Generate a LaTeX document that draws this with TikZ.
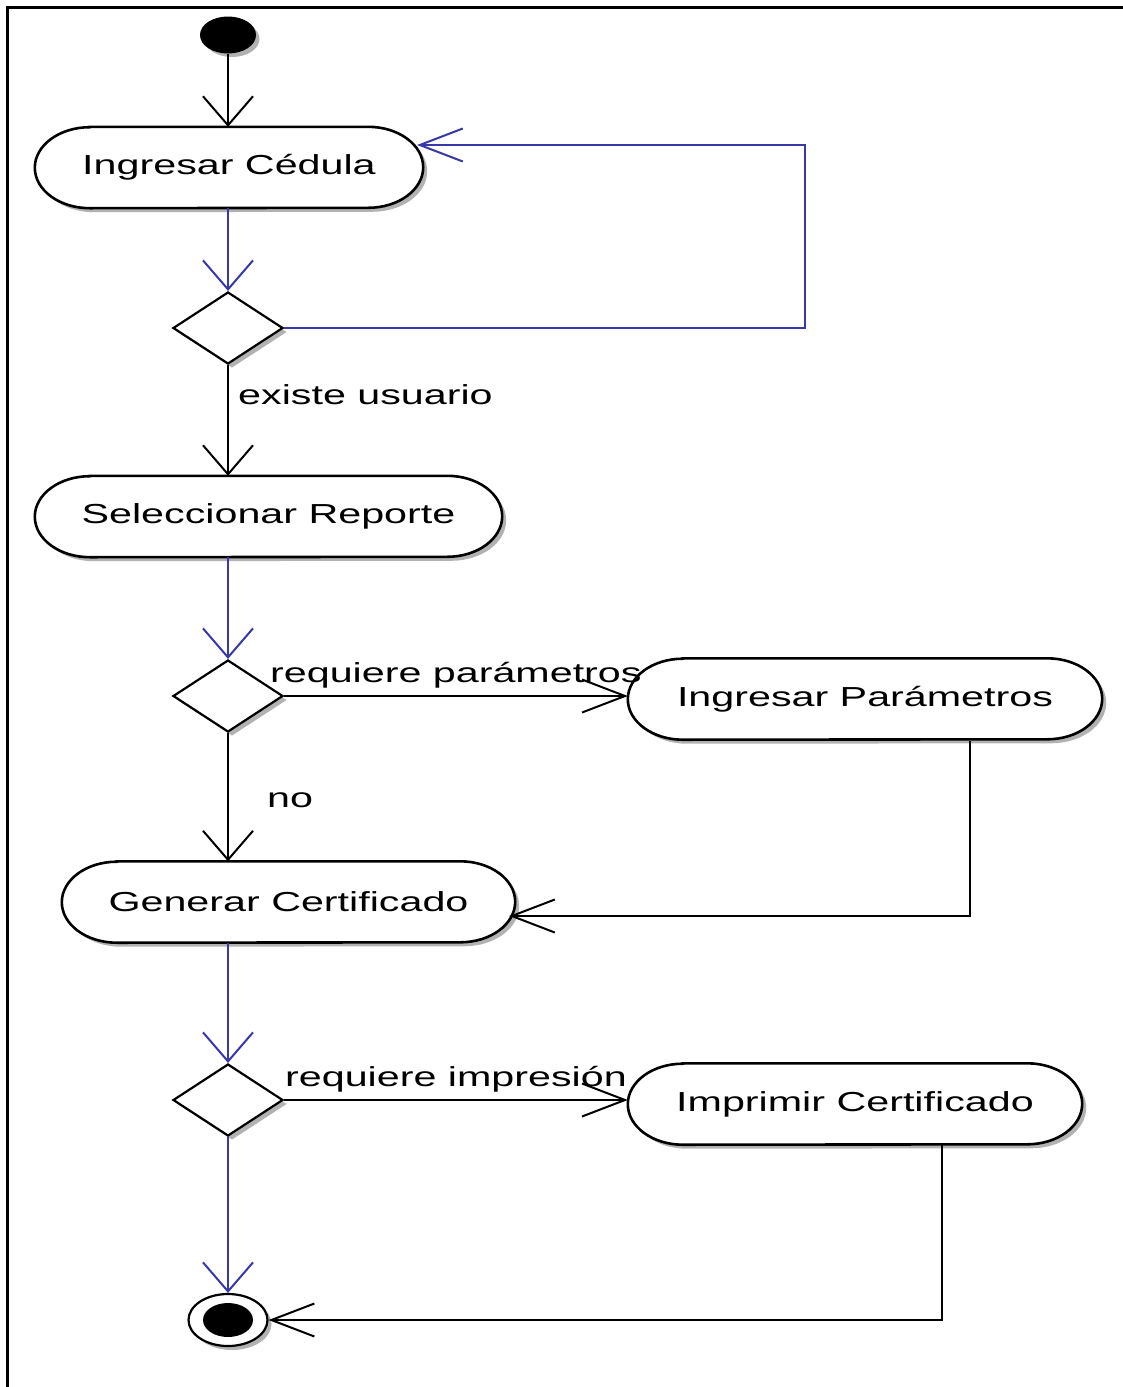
\documentclass[tikz,border=0pt]{standalone}
\usepackage{fontspec}
\newfontfamily\dfont[FakeStretch=1.5]{Liberation Sans}
\usetikzlibrary{arrows.meta,shapes.geometric,shadows}
\definecolor{umlblue}{RGB}{56,56,168}
\pgfdeclarelayer{bg}
\pgfsetlayers{bg,main}
\tikzset{
  shd/.style={drop shadow={shadow xshift=4pt, shadow yshift=-4pt, opacity=0.3, fill=black}},
  act/.style={minimum height=81pt, inner sep=0pt, font=\dfont\fontsize{27.5}{32}\selectfont},
  actline/.style={draw=black, line width=2.6pt, fill=white, shd},
  dec/.style={draw=black, line width=2.2pt, fill=white, diamond, minimum width=110pt, minimum height=72pt, inner sep=0pt, shd},
  lbl/.style={anchor=west, inner sep=0pt, font=\dfont\fontsize{27.5}{32}\selectfont},
  blk/.style={draw=black, line width=2pt},
  blu/.style={draw=umlblue, line width=2pt},
  vtip/.style={-{Straight Barb[length=29pt, width=50pt]}},
  htip/.style={-{Straight Barb[length=43pt, width=33pt]}},
}
\newcommand\stadiumof[1]{%
  \begin{pgfonlayer}{bg}
  \path[actline] ([xshift=55pt]#1.north west) -- ([xshift=-55pt]#1.north east)
    arc[start angle=90, end angle=-90, x radius=55pt, y radius=40.5pt]
    -- ([xshift=55pt]#1.south west)
    arc[start angle=270, end angle=90, x radius=55pt, y radius=40.5pt] -- cycle;
  \end{pgfonlayer}}
\begin{document}
\begin{tikzpicture}[x=1pt, y=-1pt]
\begin{pgfonlayer}{bg}
\useasboundingbox (0,0) rectangle (1123,1387);
\fill[white] (0,0) rectangle (1123,1387);
\draw[line width=3pt] (7,1387) -- (7,7) -- (1123,7);
\end{pgfonlayer}

% nodes
\node[ellipse, fill=black, draw=black, line width=1pt, minimum width=55pt, minimum height=36pt, inner sep=0pt, shd] (start) at (228,35) {};
\node[act, minimum width=388pt] (ced) at (229,167.5) {Ingresar Cédula};
\stadiumof{ced}
\node[dec] (d1) at (228,328) {};
\node[act, minimum width=467pt] (sel) at (268.5,516.5) {Seleccionar Reporte};
\stadiumof{sel}
\node[dec] (d2) at (228,696) {};
\node[act, minimum width=474pt] (par) at (865,699) {Ingresar Parámetros};
\stadiumof{par}
\node[act, minimum width=453pt] (gen) at (288.5,902) {Generar Certificado};
\stadiumof{gen}
\node[dec] (d3) at (228,1100) {};
\node[act, minimum width=454pt] (imp) at (855,1104) {Imprimir Certificado};
\stadiumof{imp}
\node[ellipse, draw=black, line width=2.2pt, fill=white, minimum width=79pt, minimum height=52pt, inner sep=0pt, shd] (fin) at (228,1320) {};
\fill[black] (fin.center) ellipse (25 and 17);

% free ends on the rounded sides
\coordinate (cedin) at (417,145);
\coordinate (loopc) at (805,328);
\coordinate (genin) at (509,916);
\coordinate (parout) at (970,741);
\coordinate (impout) at (942,1145);

% connectors
\draw[blk, vtip] (start.south) -- (start.south |- ced.north);
\draw[blu, vtip] (d1.north |- ced.south) -- (d1.north);
\draw[blu, htip] (d1.east) -- (loopc) |- (cedin);
\draw[blk, vtip] (d1.south) -- (d1.south |- sel.north);
\draw[blu, vtip] (d2.north |- sel.south) -- (d2.north);
\draw[blk, htip] (d2.east) -- (d2.east -| par.west);
\draw[blk, vtip] (d2.south) -- (d2.south |- gen.north);
\draw[blk, htip] (parout) |- (genin);
\draw[blu, vtip] (d3.north |- gen.south) -- (d3.north);
\draw[blk, htip] (d3.east) -- (d3.east -| imp.west);
\draw[blu, vtip] (d3.south) -- (d3.south |- fin.north);
\draw[blk, htip] (impout) |- (fin.east);

% labels
\node[lbl] (l1) at (238,395) {existe usuario};
\node[lbl] (l2) at (270,675) {requiere parámetros};
\node[lbl] (l3) at (267,800) {no};
\node[lbl] (l4) at (285,1079) {requiere impresión};
\end{tikzpicture}
\end{document}
